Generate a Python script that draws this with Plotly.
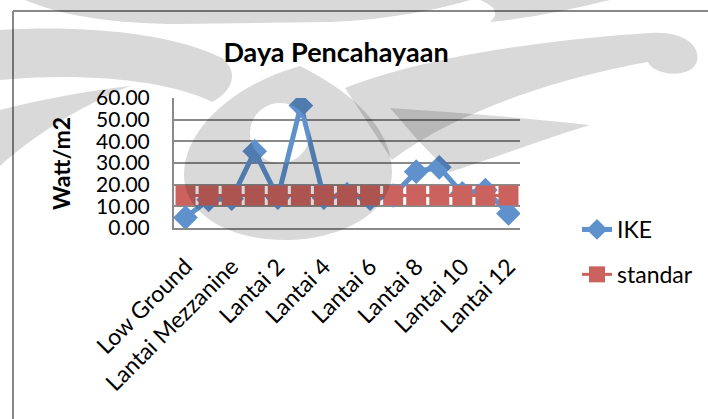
import plotly.graph_objects as go

# Lighting power density per floor (Watt/m2)
floors = [
    "Low Ground", "Upper Ground", "Lantai Mezzanine", "Lantai 1", "Lantai 2",
    "Lantai 3", "Lantai 4", "Lantai 5", "Lantai 6", "Lantai 7", "Lantai 8",
    "Lantai 9", "Lantai 10", "Lantai 11", "Lantai 12",
]
ike = [4.8, 13.0, 13.5, 35.4, 14.0, 56.5, 14.0, 15.5, 13.5, 15.0, 26.0, 28.0, 16.0, 17.5, 6.7]
standar = [15.0] * len(floors)
y_ticks = [0, 10, 20, 30, 40, 50, 60]

W, H = 708, 419
L, R, T, B = 174, 188, 98, 191
PW, PH = W - L - R, H - T - B

FONT = "Lato"
GRID = "#8a8a8a"
BLUE = "#5f91cd"
RED = "#cc625e"


def px(x, y):
    """Pixel position on the page -> paper coordinates of the plot area."""
    return (x - L) / PW, 1 - (y - T) / PH


def path(cmds):
    out = []
    for c in cmds:
        op, pts = c[0], c[1:]
        seg = op
        for (x, y) in pts:
            a, b = px(x, y)
            seg += f" {a:.4f},{b:.4f}"
        out.append(seg)
    return " ".join(out)


def circle(cx, cy, r):
    k = 0.5523 * r
    return [
        ("M", (cx + r, cy)),
        ("C", (cx + r, cy + k), (cx + k, cy + r), (cx, cy + r)),
        ("C", (cx - k, cy + r), (cx - r, cy + k), (cx - r, cy)),
        ("C", (cx - r, cy - k), (cx - k, cy - r), (cx, cy - r)),
        ("C", (cx + k, cy - r), (cx + r, cy - k), (cx + r, cy)),
        ("Z",),
    ]


# Background emblem drawn as translucent grey paths
emblem = [
    # upper band along the top edge
    [("M", (25, 0)), ("L", (470, 0)), ("C", (430, 12), (380, 20), (330, 22)),
     ("L", (180, 24)), ("C", (110, 24), (60, 15), (25, 0)), ("Z",)],
    # left blade
    [("M", (0, 30)), ("C", (80, 25), (170, 32), (222, 58)), ("C", (240, 72), (232, 92), (212, 102)),
     ("C", (170, 80), (80, 72), (0, 80)), ("Z",)],
    # left lower blade
    [("M", (0, 110)), ("C", (40, 100), (80, 92), (130, 86)), ("C", (90, 102), (40, 130), (0, 166)), ("Z",)],
    # central drop with its inner eye
    [("M", (300, 66)), ("C", (235, 84), (184, 128), (184, 175)), ("C", (184, 215), (230, 240), (285, 240)),
     ("C", (345, 240), (392, 210), (392, 172)), ("C", (392, 128), (352, 92), (300, 66)), ("Z",)]
    + circle(280, 133, 30),
    # right upper blade with curl
    [("M", (345, 88)), ("C", (420, 58), (540, 40), (650, 33)), ("C", (698, 30), (706, 60), (690, 70)),
     ("C", (675, 78), (652, 72), (648, 62)), ("C", (600, 70), (470, 100), (392, 160)), ("Z",)],
    # right lower blade
    [("M", (390, 108)), ("C", (450, 112), (530, 118), (590, 125)), ("C", (540, 140), (490, 160), (450, 172)),
     ("C", (425, 150), (405, 125), (390, 108)), ("Z",)],
    # small band at the top right
    [("M", (480, 0)), ("L", (610, 0)), ("C", (570, 10), (530, 18), (490, 22)), ("C", (500, 14), (495, 6), (480, 0)), ("Z",)],
]

fig = go.Figure()
fig.add_trace(go.Scatter(
    x=floors, y=ike, name="IKE", mode="lines+markers",
    line=dict(color=BLUE, width=5),
    marker=dict(symbol="diamond", size=19, color=BLUE),
    legendgroup="a",
))
fig.add_trace(go.Scatter(
    x=floors, y=standar, name="standar", mode="lines+markers",
    line=dict(color=RED, width=3),
    marker=dict(symbol="square", size=20, color=RED),
    legendgroup="b",
))

shapes = []
for cmds in emblem:
    shapes.append(dict(
        type="path", xref="paper", yref="paper", path=path(cmds),
        fillcolor="rgba(0,0,0,0.15)", line=dict(width=0), layer="above",
        fillrule="evenodd",
    ))
# chart area frame (left and top edges)
x0, y0 = px(13, 11)
x1, _ = px(W, 11)
_, y1 = px(13, H)
shapes.append(dict(type="line", xref="paper", yref="paper", x0=x0, y0=y0, x1=x1, y1=y0,
                   line=dict(color="#878787", width=2), layer="below"))
shapes.append(dict(type="line", xref="paper", yref="paper", x0=x0, y0=y0, x1=x0, y1=y1,
                   line=dict(color="#878787", width=2), layer="below"))

ytx, yty = px(61, 164)
fig.update_layout(
    width=W, height=H,
    margin=dict(l=L, r=R, t=T, b=B, autoexpand=False),
    paper_bgcolor="white", plot_bgcolor="white",
    font=dict(family=FONT, size=22, color="black"),
    title=dict(text="<b>Daya Pencahayaan</b>", x=336 / W, xanchor="center",
               y=1 - 53 / H, yanchor="middle", yref="container",
               font=dict(family=FONT, size=27, color="black")),
    xaxis=dict(type="category", categoryorder="array", categoryarray=floors,
               range=[-0.5, len(floors) - 0.5], tickmode="array",
               tickvals=floors[::2], ticktext=floors[::2], tickangle=-45,
               showgrid=False, showline=True, linecolor=GRID, linewidth=2,
               ticks="", ticklabelstandoff=14, tickfont=dict(family=FONT, size=23)),
    yaxis=dict(range=[0, 60], tickmode="array", tickvals=y_ticks,
               ticktext=[f"{v:.2f}" for v in y_ticks],
               showgrid=True, gridcolor=GRID, gridwidth=1.5, zeroline=False,
               showline=True, linecolor=GRID, linewidth=2, ticks="",
               ticklabelstandoff=18, tickfont=dict(family=FONT, size=21)),
    showlegend=True,
    legend=dict(x=px(577, 0)[0], y=px(0, 208)[1], xanchor="left", yanchor="top",
                bgcolor="rgba(0,0,0,0)", tracegroupgap=12, traceorder="grouped",
                font=dict(family=FONT, size=23)),
    shapes=shapes,
    annotations=[dict(text="<b>Watt/m2</b>", x=ytx, y=yty, xref="paper", yref="paper",
                      textangle=-90, showarrow=False, xanchor="center", yanchor="middle",
                      font=dict(family=FONT, size=23, color="black"))],
)

fig.write_html("out.html")
